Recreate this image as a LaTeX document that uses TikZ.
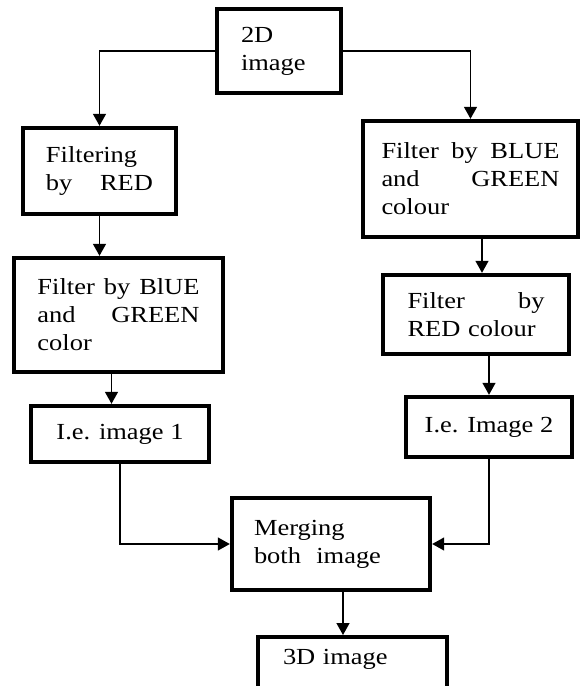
\documentclass[tikz,border=0pt]{standalone}
\usepackage{fontspec}
\setmainfont[FakeStretch=1.15]{Liberation Serif}
\usetikzlibrary{arrows.meta}

\newcommand{\jline}[2]{\makebox[#1][l]{#2}} % justified line, gaps given by \hfill

\begin{document}
\begin{tikzpicture}[x=0.5pt, y=-0.5pt,
  stage/.style={draw, line width=2.2pt, inner sep=0pt, align=left, font=\fontsize{11.5}{14}\selectfont},
  flow/.style={line width=0.7pt, -{Triangle[length=6pt,width=6.5pt]}}]
\clip (0,0) rectangle (580,686); % page
\node[stage, minimum width=62pt, minimum height=42pt, text width=38pt] (img2d) at (279,51) {2D\\image}; % source
\node[stage, minimum width=76.5pt, minimum height=43pt, text width=53.5pt] (redL) at (99.5,171) {Filtering\\\jline{53.5pt}{by\hfill RED}}; % left branch
\node[stage, minimum width=104.5pt, minimum height=57pt, text width=81pt] (bgL) at (118.5,315) {\jline{81pt}{Filter\hfill by\hfill BlUE}\\\jline{81pt}{and\hfill GREEN}\\color};
\node[stage, minimum width=89pt, minimum height=28pt] (ie1) at (120,434) {I.e. image 1};
\node[stage, minimum width=107.5pt, minimum height=58pt, text width=89pt] (bgR) at (470.5,179) {\jline{89pt}{Filter\hfill by\hfill BLUE}\\\jline{89pt}{and\hfill GREEN}\\colour}; % right branch
\node[stage, minimum width=93pt, minimum height=39.5pt, text width=68.5pt] (redR) at (476,314.5) {\jline{68.5pt}{Filter\hfill by}\\RED colour};
\node[stage, minimum width=83pt, minimum height=30pt] (ie2) at (489,427) {I.e. Image 2};
\node[stage, minimum width=99pt, minimum height=46pt, text width=77pt] (merge) at (331,544) {Merging\\both~ image}; % merge
\node[stage, anchor=north, minimum width=94.5pt, text width=69.5pt, text height=13.5pt, text depth=19pt] (img3d) at (352.5,635) {3D image}; % result
\draw[flow] (img2d.west) -| (redL.north); % arrows
\draw[flow] (img2d.east) -| (bgR.north);
\draw[flow] (redL.south) -- (redL.south |- bgL.north);
\draw[flow] ([xshift=-3.5pt]bgL.south) -- ([xshift=-3.5pt]bgL.south |- ie1.north);
\draw[flow] ([xshift=3pt]redR.north |- bgR.south) -- ([xshift=3pt]redR.north);
\draw[flow] (ie2.north |- redR.south) -- (ie2.north);
\draw[flow] (ie1.south) |- (merge.west);
\draw[flow] (ie2.south) |- (merge.east);
\draw[flow] ([xshift=6pt]merge.south) -- ([xshift=6pt]merge.south |- img3d.north);
\end{tikzpicture}
\end{document}
